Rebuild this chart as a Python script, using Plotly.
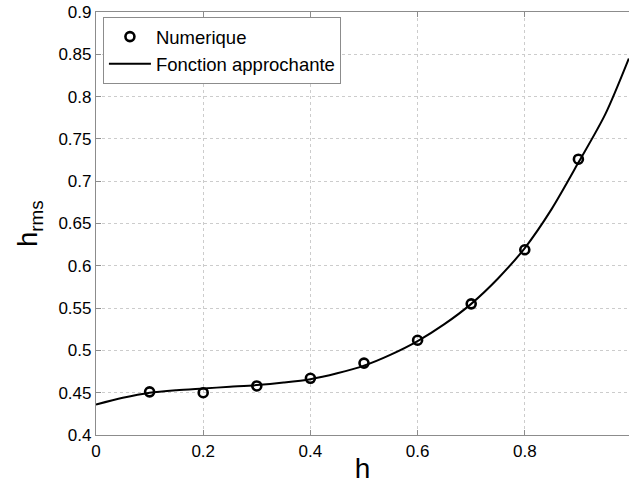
import plotly.graph_objects as go

# Numerical points
h_num = [0.1, 0.2, 0.3, 0.4, 0.5, 0.6, 0.7, 0.8, 0.9]
hrms_num = [0.451, 0.450, 0.458, 0.467, 0.485, 0.512, 0.555, 0.619, 0.726]

# Approximating function
h_fit = [0.0, 0.05, 0.1, 0.15, 0.2, 0.25, 0.3, 0.35, 0.4, 0.45, 0.5,
         0.55, 0.6, 0.65, 0.7, 0.75, 0.8, 0.85, 0.9, 0.95, 0.994]
hrms_fit = [0.436, 0.444, 0.450, 0.453, 0.455, 0.457, 0.459, 0.462, 0.466,
            0.473, 0.482, 0.495, 0.511, 0.531, 0.555, 0.585, 0.621, 0.667,
            0.722, 0.779, 0.845]

x_ticks = [0, 0.2, 0.4, 0.6, 0.8]
x_labels = ["0", "0.2", "0.4", "0.6", "0.8"]
y_ticks = [0.4, 0.45, 0.5, 0.55, 0.6, 0.65, 0.7, 0.75, 0.8, 0.85, 0.9]
y_labels = ["0.4", "0.45", "0.5", "0.55", "0.6", "0.65", "0.7", "0.75", "0.8", "0.85", "0.9"]

FONT = "Liberation Sans, Arial, sans-serif"

fig = go.Figure()
fig.add_trace(go.Scatter(
    x=h_num, y=hrms_num, mode="markers", name="Numerique",
    marker=dict(symbol="circle-open", size=9, color="black",
                line=dict(width=2.6, color="black")),
))
fig.add_trace(go.Scatter(
    x=h_fit, y=hrms_fit, mode="lines", name="Fonction approchante",
    line=dict(color="black", width=2, shape="spline", smoothing=0.8),
))

axis_common = dict(
    showgrid=True, gridcolor="#cccccc", griddash="dot", gridwidth=1,
    showline=True, linecolor="#8c8c8c", linewidth=1.2,
    ticks="inside", ticklen=5, tickcolor="#8c8c8c", tickwidth=1,
    zeroline=False, tickfont=dict(family=FONT, size=17, color="black"),
)

fig.update_layout(
    width=629, height=484,
    margin=dict(l=96, r=0, t=12, b=49),
    paper_bgcolor="white", plot_bgcolor="white",
    font=dict(family=FONT, color="black"),
    xaxis=dict(range=[0, 0.9944], tickvals=x_ticks, ticktext=x_labels,
               mirror="ticks",
               title=dict(text="h", font=dict(family=FONT, size=28), standoff=2),
               **axis_common),
    yaxis=dict(range=[0.4, 0.9], tickvals=y_ticks, ticktext=y_labels,
               title=dict(text="h<sub>rms</sub>", font=dict(family=FONT, size=27), standoff=12),
               **axis_common),
    legend=dict(x=0.013, y=0.988, xanchor="left", yanchor="top",
                bgcolor="white", bordercolor="#8c8c8c", borderwidth=1,
                font=dict(family=FONT, size=18.5, color="black"),
                tracegroupgap=0, itemwidth=42),
    showlegend=True,
)

fig.write_html("out.html")
